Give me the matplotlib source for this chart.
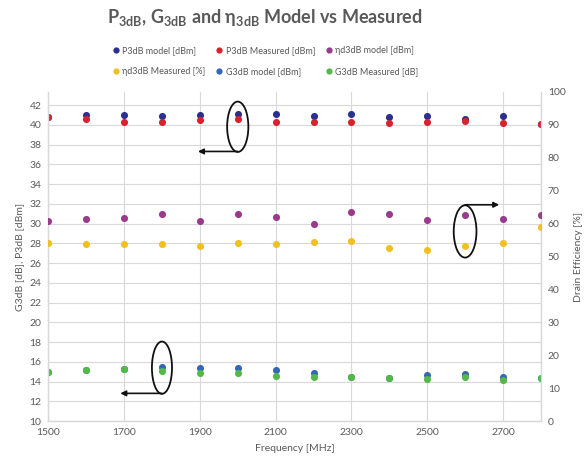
import matplotlib
matplotlib.use("Agg")
import matplotlib.pyplot as plt
from matplotlib.patches import Ellipse
from matplotlib.lines import Line2D
import numpy as np

plt.rcParams['font.family'] = ['Lato', 'DejaVu Sans']
plt.rcParams['mathtext.fontset'] = 'custom'
plt.rcParams['mathtext.rm'] = 'Lato'
plt.rcParams['mathtext.bf'] = 'Lato:bold'

# Frequency sweep [MHz]
freq = [1500, 1600, 1700, 1800, 1900, 2000, 2100, 2200, 2300, 2400, 2500, 2600, 2700, 2800]

# Saturated output power [dBm]
p3db_model = [40.75, 41.0, 41.0, 40.9, 41.0, 41.1, 41.1, 40.9, 41.05, 40.75, 40.9, 40.55, 40.9, 40.05]
p3db_meas = [40.75, 40.6, 40.3, 40.3, 40.5, 40.6, 40.3, 40.25, 40.25, 40.15, 40.25, 40.35, 40.15, 40.05]

# Drain efficiency [%]
eta_model = [60.8, 61.3, 61.8, 63.0, 60.8, 63.0, 62.0, 60.0, 63.5, 62.8, 61.0, 62.5, 61.5, 62.5]
eta_meas = [54.0, 53.8, 53.8, 53.7, 53.3, 54.2, 53.8, 54.5, 54.7, 52.5, 51.9, 53.2, 54.0, 58.8]

# Gain [dB]
g3db_model = [14.95, 15.2, 15.3, 15.45, 15.4, 15.35, 15.15, 14.9, 14.45, 14.4, 14.65, 14.75, 14.5, 14.4]
g3db_meas = [14.93, 15.16, 15.23, 15.09, 14.9, 14.9, 14.6, 14.5, 14.42, 14.39, 14.22, 14.5, 14.15, 14.39]

x_ticks = [1500, 1700, 1900, 2100, 2300, 2500, 2700]
left_ticks = list(range(10, 43, 2))
right_ticks = list(range(0, 101, 10))

TXT = '#595959'
GRID = '#d9d9d9'

fig = plt.figure(figsize=(5.86, 4.65), dpi=100)
ax = fig.add_axes([0.0824, 0.0946, 0.923 - 0.0824, 0.8024 - 0.0946])
ax2 = ax.twinx()

ms = 26
c_pm, c_pmeas = '#2b2f8f', '#d8232f'
c_em, c_emeas = '#9b3a8c', '#f0c020'
c_gm, c_gmeas = '#3566b8', '#52b848'

h_pm = ax.scatter(freq, p3db_model, s=ms, color=c_pm, zorder=3, linewidths=0)
h_pmeas = ax.scatter(freq, p3db_meas, s=ms, color=c_pmeas, zorder=4, linewidths=0)
h_gm = ax.scatter(freq, g3db_model, s=ms, color=c_gm, zorder=3, linewidths=0)
h_gmeas = ax.scatter(freq, g3db_meas, s=ms, color=c_gmeas, zorder=4, linewidths=0)
h_em = ax2.scatter(freq, eta_model, s=ms, color=c_em, zorder=3, linewidths=0)
h_emeas = ax2.scatter(freq, eta_meas, s=ms, color=c_emeas, zorder=3, linewidths=0)

ax.set_xlim(1500, 2800)
ax.set_ylim(10, 43.333)
ax2.set_ylim(0, 100)
ax.set_xticks(x_ticks)
ax.set_yticks(left_ticks)
ax2.set_yticks(right_ticks)
ax.grid(True, color=GRID, linewidth=0.8, zorder=0)
ax.set_axisbelow(True)

for a in (ax, ax2):
    for side in ('top',):
        a.spines[side].set_visible(False)
    for side in ('left', 'right', 'bottom'):
        a.spines[side].set_color(GRID)
        a.spines[side].set_linewidth(0.9)
    a.tick_params(length=0, colors=TXT, labelsize=7.5, pad=5)

ax.set_xlabel('Frequency [MHz]', color=TXT, fontsize=7.5, labelpad=5)
ax.set_ylabel('G3dB [dB], P3dB [dBm]', color=TXT, fontsize=7.5, labelpad=4)
ax2.set_ylabel('Drain Efficiency [%]', color=TXT, fontsize=7.5, rotation=90, labelpad=6)

# Call-outs pointing each group to its axis
ellipses = [(2000, 39.8, 56, 5.1), (2600, 29.2, 60, 5.3), (1800, 15.4, 53, 5.3)]
for cx, cy, w, h in ellipses:
    ax2.add_patch(Ellipse((cx, cy), w, h, transform=ax.transData, fill=False,
                          edgecolor='#111111', linewidth=1.3, zorder=6))
arrows = [((2000, 37.3), (1895, 37.3)), ((2600, 31.9), (2690, 31.9)), ((1800, 12.8), (1690, 12.8))]
for (x0, y0), (x1, y1) in arrows:
    ax2.annotate('', xy=(x1, y1), xytext=(x0, y0), xycoords=ax.transData,
                 textcoords=ax.transData,
                 arrowprops=dict(arrowstyle='-|>', color='#111111', lw=1.2,
                                 mutation_scale=8, shrinkA=0, shrinkB=0), zorder=6)

fig.text(0.452, 0.9505,
         r'P$_{\mathbf{3dB}}$, G$_{\mathbf{3dB}}$ and η$_{\mathbf{3dB}}$ Model vs Measured',
         ha='center', va='baseline', fontsize=13, fontweight='bold', color=TXT)

def mk(c):
    return Line2D([], [], marker='o', linestyle='', markersize=4.5, color=c, markeredgewidth=0)

handles = [mk(c_pm), mk(c_emeas), mk(c_pmeas), mk(c_gm), mk(c_em), mk(c_gmeas)]
labels = ['P3dB model [dBm]', 'ηd3dB Measured [%]', 'P3dB Measured [dBm]',
          'G3dB model [dBm]', 'ηd3dB model [dBm]', 'G3dB Measured [dB]']
leg = fig.legend(handles, labels, ncol=3, loc='center', bbox_to_anchor=(0.452, 0.869),
                 frameon=False, fontsize=6.5, labelcolor=TXT, handletextpad=0.2,
                 columnspacing=1.0, labelspacing=1.3, handlelength=1.0)

fig.savefig('out.png', dpi=100)
